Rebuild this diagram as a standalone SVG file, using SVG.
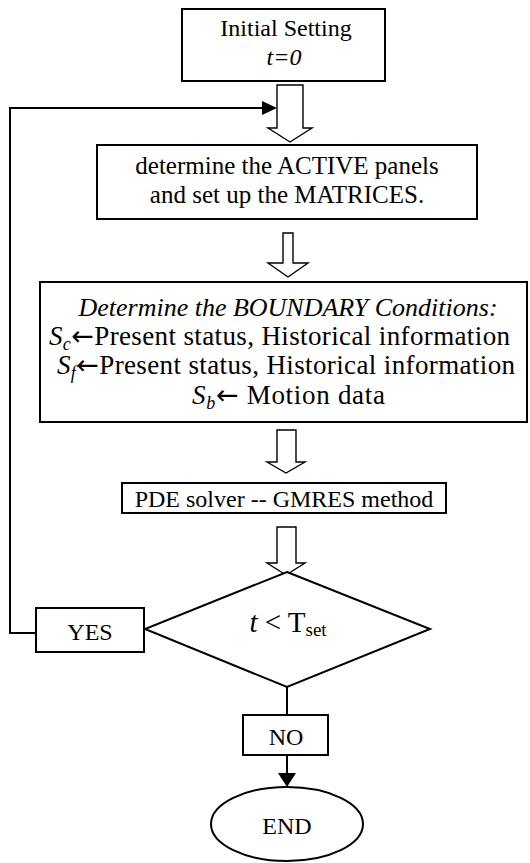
<svg xmlns="http://www.w3.org/2000/svg" width="530" height="863" viewBox="0 0 530 863">
<defs>
<style>
.box{fill:#fff;stroke:#000;stroke-width:2}
.hol{fill:#fff;stroke:#000;stroke-width:1.4;stroke-linejoin:miter}
.ln{fill:none;stroke:#000;stroke-width:2}
.t{font-family:"Liberation Serif","Times New Roman",serif;font-size:24px;fill:#000}
.c{text-anchor:middle}
.i{font-style:italic}
.ar{font-family:"DejaVu Sans",sans-serif}
</style>
</defs>
<rect width="530" height="863" fill="#fff"/>

<g id="connectors">
<polyline class="ln" points="36,633 10,633 10,108 263,108"/>
<polygon points="262,101 277,108 262,115" fill="#000"/>
<polygon class="hol" points="277,85 303,85 303,128 312,128 290,142 268,128 277,128"/>
<polygon class="hol" points="283,233 293,233 293,263 308,263 288,277 268,263 283,263"/>
<polygon class="hol" points="277,430 296,430 296,462 305,462 286,473 267,462 277,462"/>
<polygon class="hol" points="277,527 296,527 296,563 305,563 286,575 267,563 277,563"/>
<line class="ln" x1="287" y1="687" x2="287" y2="715"/>
<line class="ln" x1="287" y1="755" x2="287" y2="774"/>
<polygon points="278,773 296,773 287,787" fill="#000"/>
</g>

<g id="start">
<rect class="box" x="182" y="9" width="203" height="72"/>
<text class="t c" x="286" y="36">Initial Setting</text>
<text class="t c i" x="284" y="65">t=0</text>
</g>

<g id="active">
<rect class="box" x="97" y="145" width="380" height="74"/>
<text class="t c" x="287" y="174" style="font-size:25px">determine the ACTIVE panels</text>
<text class="t c" x="287" y="203" style="font-size:25px">and set up the MATRICES.</text>
</g>

<g id="boundary">
<rect class="box" x="40" y="282" width="487" height="140"/>
<text class="t c i" x="288" y="316" style="font-size:26px">Determine the BOUNDARY Conditions:</text>
<text class="t" x="49" y="345" style="font-size:27px" textLength="461" lengthAdjust="spacing"><tspan class="i">S</tspan><tspan class="i" style="font-size:18px" dy="5">c</tspan><tspan class="ar" dy="-5">←</tspan>Present status, Historical information</text>
<text class="t" x="57" y="374" style="font-size:27px" textLength="458" lengthAdjust="spacing"><tspan class="i">S</tspan><tspan class="i" style="font-size:18px" dy="5">f</tspan><tspan class="ar" dy="-5">←</tspan>Present status, Historical information</text>
<text class="t" x="192" y="404" style="font-size:27px" textLength="193" lengthAdjust="spacing"><tspan class="i">S</tspan><tspan class="i" style="font-size:18px" dy="5">b</tspan><tspan class="ar" dy="-5">←</tspan> Motion data</text>
</g>

<g id="solver">
<rect class="box" x="122" y="483" width="324" height="30"/>
<text class="t c" x="284" y="507">PDE solver -- GMRES method</text>
</g>

<g id="decision">
<polygon class="box" points="287,572 430,629 287,687 145,629" stroke-width="1.6"/>
<text class="t c" x="288" y="632" style="font-size:29px"><tspan class="i">t</tspan> &lt; T<tspan style="font-size:19px" dy="4">set</tspan></text>
</g>

<g id="yes">
<rect class="box" x="36" y="608" width="108" height="44"/>
<text class="t c" x="90" y="640">YES</text>
</g>

<g id="no">
<rect class="box" x="243" y="715" width="85" height="40"/>
<text class="t c" x="286" y="745">NO</text>
</g>

<g id="end">
<ellipse class="box" cx="287" cy="824" rx="76" ry="37" stroke-width="1.6"/>
<text class="t c" x="287" y="834">END</text>
</g>
</svg>
